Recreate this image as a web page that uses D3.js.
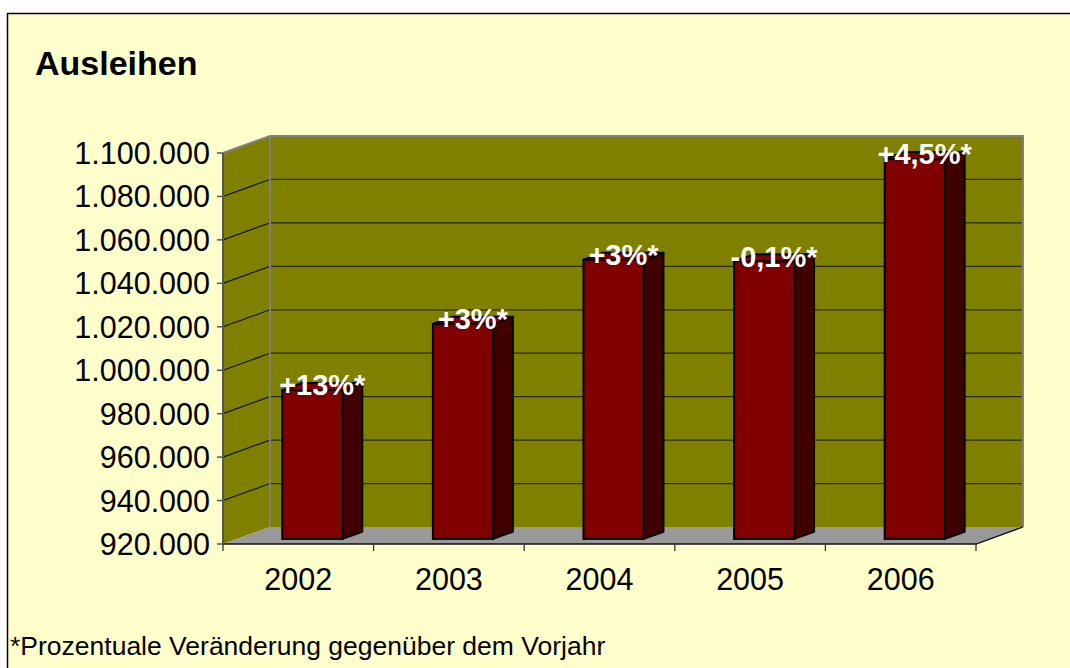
<!DOCTYPE html>
<html><head><meta charset="utf-8">
<script src="https://cdn.jsdelivr.net/npm/d3@7"></script>
<style>html,body{margin:0;padding:0;background:#fff;}svg{display:block;}</style>
</head><body>
<script>
const years = ["2002","2003","2004","2005","2006"];
const ausleihen = [988500, 1019000, 1048500, 1047700, 1094800];
const changeLabels = ["+13%*","+3%*","+3%*","-0,1%*","+4,5%*"];
const yTicks = [920000,940000,960000,980000,1000000,1020000,1040000,1060000,1080000,1100000];
const titleText = "Ausleihen";
const footnote = "*Prozentuale Veränderung gegenüber dem Vorjahr";

const W = 1070, H = 668;
const svg = d3.select("body").append("svg").attr("width", W).attr("height", H);
const font = "'Liberation Sans', Arial, sans-serif";

// frame
svg.append("rect").attr("x",0).attr("y",0).attr("width",W).attr("height",H).attr("fill","#fff");
svg.append("rect").attr("x",7.5).attr("y",13.5).attr("width",W+20).attr("height",H+20)
  .attr("fill","#FFFFCC").attr("stroke","#000").attr("stroke-width",1.5);

const x0 = 223, x1 = 976, yTop = 153, yBot = 544;
const DX = 47, DY = -17; // depth offset
const y = d3.scaleLinear().domain([920000,1100000]).range([yBot,yTop]);
const x = d3.scaleBand().domain(years).range([x0,x1]).paddingInner(0.6).paddingOuter(0.3);

const fmt = v => d3.format(",")(v).replace(/,/g,".");

const g = svg.append("g");
// back wall
g.append("polygon").attr("points",[[x0+DX,yTop+DY],[x1+DX,yTop+DY],[x1+DX,yBot+DY],[x0+DX,yBot+DY]].join(" "))
  .attr("fill","#808000");
// left wall
g.append("polygon").attr("points",[[x0,yTop],[x0+DX,yTop+DY],[x0+DX,yBot+DY],[x0,yBot]].join(" "))
  .attr("fill","#808000");
// gridlines
yTicks.forEach((t,i)=>{
  if(i===0) return;
  const yy = y(t);
  if(i<yTicks.length-1){
    g.append("line").attr("x1",x0+DX).attr("x2",x1+DX).attr("y1",yy+DY).attr("y2",yy+DY)
      .attr("stroke","#2a2a00").attr("stroke-width",1.3);
    g.append("line").attr("x1",x0).attr("x2",x0+DX).attr("y1",yy).attr("y2",yy+DY)
      .attr("stroke","#111").attr("stroke-width",1.2);
  }
});
// wall edges
g.append("polyline").attr("points",[[x0,yTop],[x0+DX,yTop+DY],[x1+DX,yTop+DY],[x1+DX,yBot+DY]].join(" "))
  .attr("fill","none").attr("stroke","#808080").attr("stroke-width",2);
g.append("line").attr("x1",x0+DX).attr("x2",x0+DX).attr("y1",yTop+DY).attr("y2",yBot+DY)
  .attr("stroke","#808080").attr("stroke-width",2);
// floor
g.append("polygon").attr("points",[[x0,yBot],[x1,yBot],[x1+DX,yBot+DY],[x0+DX,yBot+DY]].join(" "))
  .attr("fill","#999999");
g.append("polyline").attr("points",[[x0,yBot],[x1,yBot],[x1+DX,yBot+DY]].join(" "))
  .attr("fill","none").attr("stroke","#111").attr("stroke-width",1.3);
// left axis line
g.append("line").attr("x1",x0).attr("x2",x0).attr("y1",yTop).attr("y2",yBot)
  .attr("stroke","#555").attr("stroke-width",2);

// y ticks and labels
yTicks.forEach(t=>{
  g.append("line").attr("x1",x0-6).attr("x2",x0).attr("y1",y(t)).attr("y2",y(t))
    .attr("stroke","#555").attr("stroke-width",1.5);
  g.append("text").attr("x",210).attr("y",y(t)).attr("dy","0.36em").attr("text-anchor","end")
    .attr("font-family",font).attr("font-size",30.5).attr("fill","#000").text(fmt(t));
});
// x ticks
d3.range(years.length+1).forEach(i=>{
  const xx = x0 + i*(x1-x0)/years.length;
  g.append("line").attr("x1",xx).attr("x2",xx).attr("y1",yBot).attr("y2",yBot+7)
    .attr("stroke","#333").attr("stroke-width",1.3);
});
years.forEach(yr=>{
  g.append("text").attr("x",x(yr)+x.bandwidth()/2).attr("y",590).attr("text-anchor","middle")
    .attr("font-family",font).attr("font-size",30.5).attr("fill","#000").text(yr);
});

// bars
const f0 = 0.3, f1 = 0.72;
years.forEach((yr,i)=>{
  const v = ausleihen[i];
  const bx = x(yr) + f0*DX, bw = x.bandwidth();
  const oy = f0*DY;
  const ddx = (f1-f0)*DX, ddy = (f1-f0)*DY;
  const top = y(v) + oy, bot = yBot + oy;
  // side
  g.append("polygon").attr("points",[[bx+bw,top],[bx+bw+ddx,top+ddy],[bx+bw+ddx,bot+ddy],[bx+bw,bot]].join(" "))
    .attr("fill","#400000").attr("stroke","#000").attr("stroke-width",2).attr("stroke-linejoin","round");
  // top
  g.append("polygon").attr("points",[[bx,top],[bx+ddx,top+ddy],[bx+bw+ddx,top+ddy],[bx+bw,top]].join(" "))
    .attr("fill","#800000").attr("stroke","#000").attr("stroke-width",2).attr("stroke-linejoin","round");
  // front
  g.append("rect").attr("x",bx).attr("y",top).attr("width",bw).attr("height",bot-top)
    .attr("fill","#800000").attr("stroke","#000").attr("stroke-width",2);
  // label
  g.append("text").attr("x",bx+(bw+ddx)/2).attr("y",top+5).attr("text-anchor","middle")
    .attr("font-family",font).attr("font-weight","bold").attr("font-size",29).attr("fill","#fff")
    .text(changeLabels[i]);
});

// title
svg.append("text").attr("x",35).attr("y",75).attr("font-family",font).attr("font-weight","bold")
  .attr("font-size",34).attr("fill","#000").text(titleText);
// footnote
svg.append("text").attr("x",10).attr("y",655).attr("font-family",font)
  .attr("font-size",26.5).attr("fill","#000").text(footnote);
</script>
</body></html>
